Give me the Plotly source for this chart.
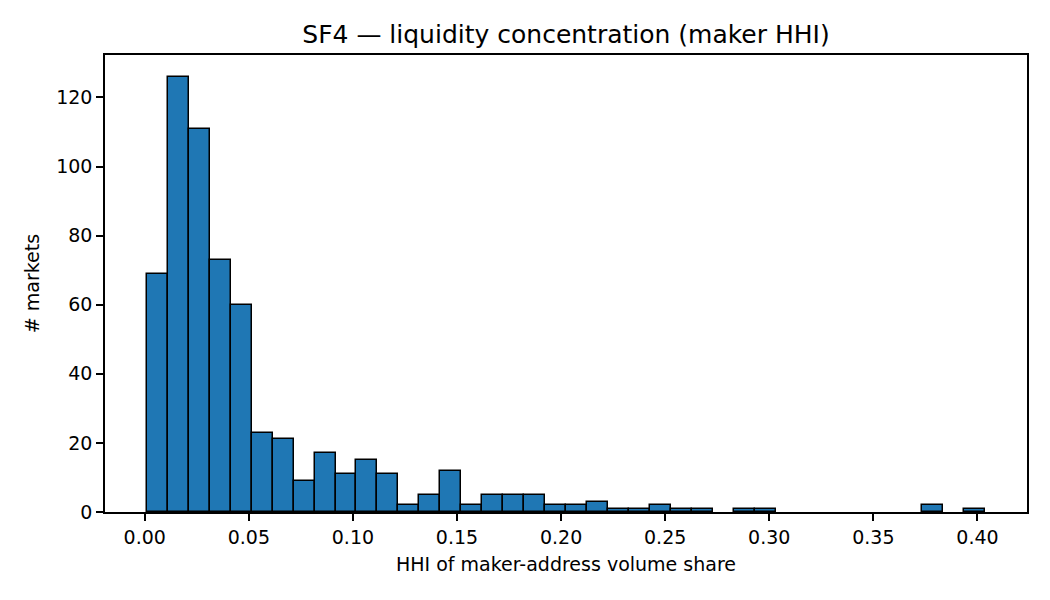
import plotly.graph_objects as go

# Histogram of maker HHI per market (40 equal-width bins)
bin_start = 0.001
bin_width = 0.01007
counts = [69, 126, 111, 73, 60, 23, 21, 9, 17, 11,
          15, 11, 2, 5, 12, 2, 5, 5, 5, 2,
          2, 3, 1, 1, 2, 1, 1, 0, 1, 1,
          0, 0, 0, 0, 0, 0, 0, 2, 0, 1]
x_ticks = [0.00, 0.05, 0.10, 0.15, 0.20, 0.25, 0.30, 0.35, 0.40]
y_ticks = [0, 20, 40, 60, 80, 100, 120]

lefts = [bin_start + i * bin_width for i in range(len(counts))]
heights = [c if c > 0 else None for c in counts]

FONT = "DejaVu Sans"

fig = go.Figure(
    go.Bar(
        x=lefts,
        y=heights,
        width=[bin_width] * len(counts),
        offset=0,
        marker=dict(color="#1f77b4", line=dict(color="black", width=1.5)),
        hoverinfo="y",
    )
)

fig.update_layout(
    width=1050,
    height=600,
    paper_bgcolor="white",
    plot_bgcolor="white",
    bargap=0,
    showlegend=False,
    margin=dict(l=97, r=31, t=47, b=96),
    font=dict(family=FONT, size=19, color="black"),
    title=dict(
        text="SF4 — liquidity concentration (maker HHI)",
        x=0.5,
        xanchor="center",
        xref="paper",
        y=1 - 26 / 600,
        yanchor="middle",
        font=dict(family=FONT, size=25, color="black"),
    ),
)

fig.update_xaxes(
    range=[-0.0191, 0.4238],
    tickvals=x_ticks,
    ticktext=[f"{v:.2f}" for v in x_ticks],
    ticks="outside",
    ticklen=7,
    tickwidth=1.6,
    tickcolor="black",
    showline=True,
    linecolor="black",
    linewidth=1.6,
    mirror=True,
    showgrid=False,
    zeroline=False,
    title=dict(text="HHI of maker-address volume share", standoff=11,
               font=dict(family=FONT, size=19)),
)
fig.update_yaxes(
    range=[0, 132.3],
    tickvals=y_ticks,
    ticks="outside",
    ticklen=7,
    tickwidth=1.6,
    tickcolor="black",
    showline=True,
    linecolor="black",
    linewidth=1.6,
    mirror=True,
    showgrid=False,
    zeroline=False,
    title=dict(text="# markets", standoff=11, font=dict(family=FONT, size=19)),
)

fig.write_html("out.html")
